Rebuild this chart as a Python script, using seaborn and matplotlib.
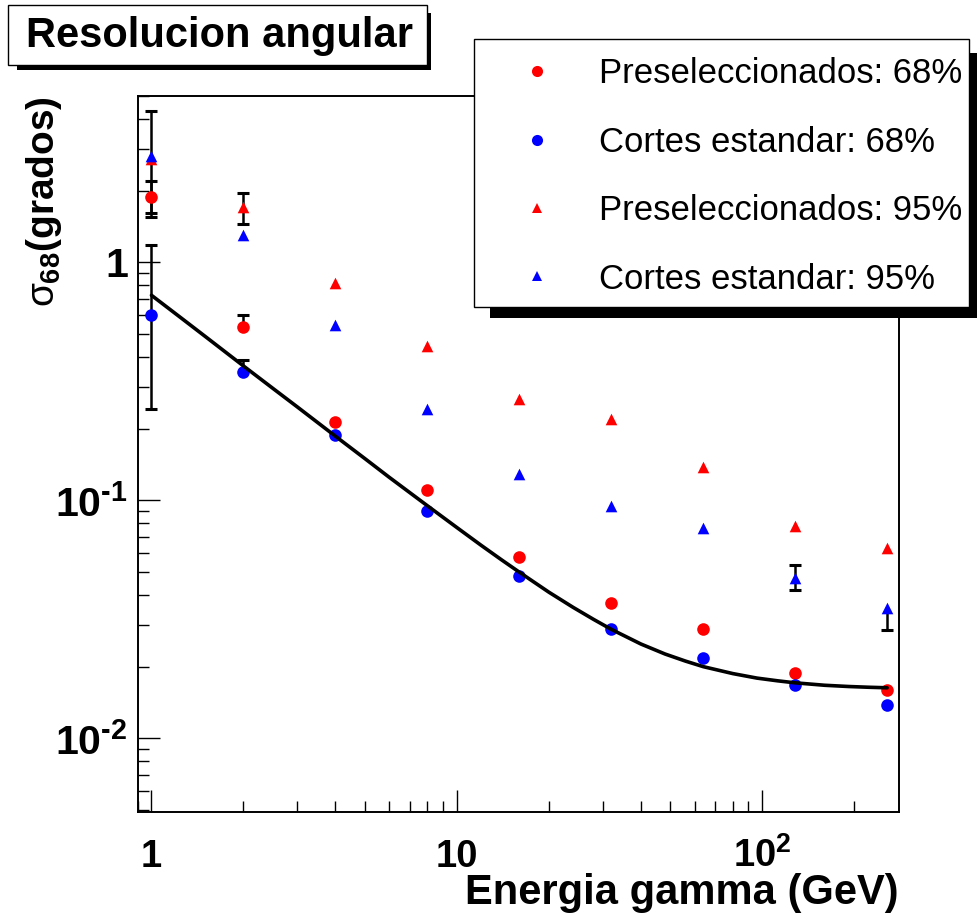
import numpy as np
import pandas as pd
import matplotlib
matplotlib.use("Agg")
import matplotlib.pyplot as plt
import seaborn as sns
from matplotlib.lines import Line2D
from matplotlib.patches import Rectangle
from matplotlib.ticker import LogLocator, NullFormatter

# ---------------- data ----------------
energia = [1, 2, 4, 8, 16, 32, 64, 128, 256]

pre68 = [1.875, 0.533, 0.213, 0.110, 0.0576, 0.0369, 0.0287, 0.0188, 0.0160]
cut68 = [0.599, 0.345, 0.188, 0.0899, 0.048, 0.0287, 0.0217, 0.0167, 0.0138]
pre95 = [2.73, 1.70, 0.816, 0.444, 0.266, 0.219, 0.138, 0.0778, 0.0629]
cut95 = [2.81, 1.30, 0.544, 0.243, 0.129, 0.0944, 0.0762, 0.047, 0.0352]

pre68_err_lo = [0.265, 0, 0, 0, 0, 0, 0, 0, 0]
pre68_err_hi = [0.315, 0.066, 0, 0, 0, 0, 0, 0, 0]
cut68_err_lo = [0.356, 0, 0, 0, 0, 0, 0, 0, 0]
cut68_err_hi = [0.58, 0.042, 0, 0, 0, 0, 0, 0, 0]
pre95_err_lo = [0, 0.25, 0, 0, 0, 0, 0, 0, 0]
pre95_err_hi = [0, 0.25, 0, 0, 0, 0, 0, 0, 0]
cut95_err_lo = [1.26, 0, 0, 0, 0, 0, 0, 0.0052, 0.0066]
cut95_err_hi = [1.50, 0, 0, 0, 0, 0, 0, 0.0065, 0]

fit_energia = [1, 1.25, 1.5, 2, 2.5, 3, 4, 5, 6, 8, 10, 12, 14, 16, 20, 24, 28,
               32, 40, 48, 56, 64, 80, 96, 112, 128, 160, 192, 224, 256]
fit_sigma = [0.727, 0.584, 0.488, 0.367, 0.295, 0.247, 0.186, 0.1496, 0.125,
             0.0949, 0.0768, 0.0647, 0.0562, 0.0499, 0.0411, 0.0355, 0.0316,
             0.0287, 0.0249, 0.0226, 0.0211, 0.0200, 0.0187, 0.0179, 0.01744,
             0.0171, 0.0167, 0.0165, 0.01638, 0.0163]

series_names = ["Preseleccionados: 68%", "Cortes estandar: 68%",
                "Preseleccionados: 95%", "Cortes estandar: 95%"]
series_colors = ["#ff0000", "#0000ff", "#ff0000", "#0000ff"]
series_markers = ["o", "o", "^", "^"]

x_ticks = [1, 10, 100]
x_ticklabels = ["1", "10", r"$\mathbf{10^{2}}$"]
y_ticks = [0.01, 0.1, 1]
y_ticklabels = [r"$\mathbf{10^{\text{-}2}}$", r"$\mathbf{10^{\text{-}1}}$", "1"]

title_text = "Resolucion angular"
x_title = "Energia gamma (GeV)"
y_title = r"$\sigma_{\mathbf{68}}$(grados)"

# ---------------- style ----------------
sns.set_style("ticks")
plt.rcParams["font.family"] = ["Liberation Sans", "DejaVu Sans"]
plt.rcParams["mathtext.fontset"] = "custom"
plt.rcParams["mathtext.rm"] = "Liberation Sans:bold"
plt.rcParams["mathtext.it"] = "Liberation Sans"
plt.rcParams["mathtext.bf"] = "Liberation Sans:bold"
for key in ["text.color", "axes.labelcolor", "xtick.color", "ytick.color", "axes.edgecolor"]:
    plt.rcParams[key] = "black"

W, H = 977, 921
fig = plt.figure(figsize=(W / 100, H / 100), dpi=100)
fig.patch.set_facecolor("white")
ax = fig.add_axes([137.5 / W, 1 - 812 / H, (899 - 137.5) / W, (812 - 96) / H])

values = [pre68, cut68, pre95, cut95]
errs_lo = [pre68_err_lo, cut68_err_lo, pre95_err_lo, cut95_err_lo]
errs_hi = [pre68_err_hi, cut68_err_hi, pre95_err_hi, cut95_err_hi]

df = pd.DataFrame({
    "E": np.tile(energia, 4),
    "sigma": np.concatenate(values),
    "serie": np.repeat(series_names, len(energia)),
})
palette = dict(zip(series_names, series_colors))
markers = dict(zip(series_names, series_markers))

# error bars (black), drawn below markers
for vals, lo, hi in zip(values, errs_lo, errs_hi):
    x = np.array(energia, float)
    y = np.array(vals, float)
    lo = np.array(lo, float)
    hi = np.array(hi, float)
    m = (lo > 0) | (hi > 0)
    if m.any():
        ax.errorbar(x[m], y[m], yerr=[lo[m], hi[m]], fmt="none", ecolor="black",
                    elinewidth=1.8, capsize=0, zorder=2)
    ml = lo > 0
    mh = hi > 0
    ax.plot(x[ml], (y - lo)[ml], ls="none", marker="_", ms=8, mew=2.2,
            color="black", zorder=2)
    ax.plot(x[mh], (y + hi)[mh], ls="none", marker="_", ms=8, mew=2.2,
            color="black", zorder=2)

for name in series_names:
    sub = df[df["serie"] == name]
    sns.scatterplot(data=sub, x="E", y="sigma", color=palette[name],
                    marker=markers[name], s=82 if markers[name] == "o" else 70,
                    linewidth=0, legend=False, ax=ax, zorder=3)

sns.lineplot(x=fit_energia, y=fit_sigma, color="black", linewidth=2.6,
             sort=False, estimator=None, ax=ax, zorder=4)

ax.set_xscale("log")
ax.set_yscale("log")
ax.set_xlim(0.9, 280)
ax.set_ylim(0.0049, 5.0)

ax.set_xticks(x_ticks, labels=x_ticklabels, fontsize=27.5, fontweight="bold")
ax.set_yticks(y_ticks, labels=y_ticklabels, fontsize=29.5, fontweight="bold")
ax.xaxis.set_minor_locator(LogLocator(base=10, subs=np.arange(2, 10), numticks=20))
ax.yaxis.set_minor_locator(LogLocator(base=10, subs=np.arange(2, 10), numticks=20))
ax.xaxis.set_minor_formatter(NullFormatter())
ax.yaxis.set_minor_formatter(NullFormatter())
ax.tick_params(which="both", direction="in", top=False, right=False, color="black")
ax.tick_params(which="major", length=15.8, width=1.0)
ax.tick_params(which="minor", length=8.0, width=1.0)
ax.tick_params(axis="x", which="major", pad=39.5)
ax.tick_params(axis="y", which="major", pad=7)
for lbl in ax.get_xticklabels():
    lbl.set_verticalalignment("baseline")

for sp in ax.spines.values():
    sp.set_color("black")
    sp.set_linewidth(1.4)
ax.grid(False)

ax.set_xlabel(x_title, fontsize=30, fontweight="bold", loc="right")
ax.xaxis.set_label_coords(1.0, (812 - 873) / 716)
ax.set_ylabel(y_title, fontsize=28, fontweight="bold", loc="top")
ax.yaxis.set_label_coords((64 - 137.5) / 761.5, 1.0)


def rect_px(x0, y0, x1, y1, **kw):
    return Rectangle((x0 / W, 1 - y1 / H), (x1 - x0) / W, (y1 - y0) / H,
                     transform=fig.transFigure, **kw)


# title pave with shadow
fig.add_artist(rect_px(427, 13, 431, 70, facecolor="black", edgecolor="none"))
fig.add_artist(rect_px(17, 65, 431, 70, facecolor="black", edgecolor="none"))
fig.add_artist(rect_px(8, 5, 427, 65, facecolor="white", edgecolor="black", linewidth=1.0))
fig.text(219 / W, 1 - 47 / H, title_text, fontsize=30, fontweight="bold",
         ha="center", va="baseline")

# legend box with shadow
fig.add_artist(rect_px(969, 53, 990, 318, facecolor="black", edgecolor="none"))
fig.add_artist(rect_px(490, 307, 990, 318, facecolor="black", edgecolor="none"))
fig.add_artist(rect_px(474, 39, 969, 307, facecolor="white", edgecolor="black", linewidth=1.0))

handles = [Line2D([], [], ls="none", marker=mk, color=c, markeredgewidth=0,
                  markersize=8 if mk == "o" else 7.5)
           for mk, c in zip(series_markers, series_colors)]
fig.legend(handles, series_names, loc="center left",
           bbox_to_anchor=(519.6 / W, 1 - 176.5 / H), frameon=False,
           fontsize=25, handlelength=1.0, handletextpad=1.29,
           labelspacing=1.02, borderpad=0, borderaxespad=0)

fig.savefig("out.png", dpi=100, facecolor="white")
